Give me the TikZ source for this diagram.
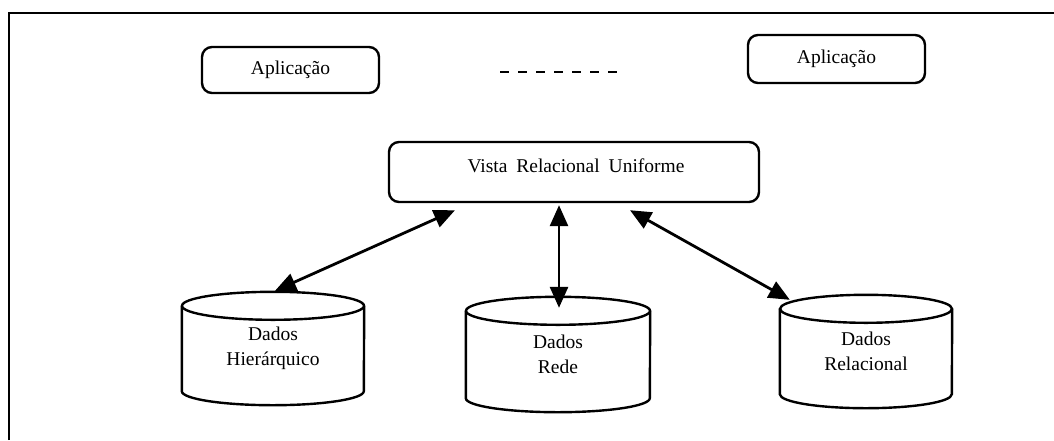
\documentclass[tikz,border=0pt]{standalone}
\usepackage{fontspec}
\setmainfont{Liberation Serif}
\usetikzlibrary{arrows.meta}

% Drum outline around a named rectangular node: #1 node name, #2 x radius, #3 y radius
\newcommand{\dbdrum}[3]{%
  \draw[drumline] ([yshift=-#3]#1.north) ellipse [x radius=#2, y radius=#3];
  \draw[drumline] ([yshift=-#3]#1.north west) -- ([yshift=#3]#1.south west)
    arc [start angle=180, end angle=360, x radius=#2, y radius=#3]
    -- ([yshift=-#3]#1.north east);
}

\begin{document}
\begin{tikzpicture}[x=1pt, y=-1pt,
  appbox/.style={draw, line width=2.4pt, rounded corners=10pt, inner sep=0pt,
                 font=\fontsize{19.5}{23}\selectfont},
  drumbox/.style={inner sep=0pt, align=center, font=\fontsize{19.5}{25}\selectfont},
  drumline/.style={line width=2.4pt},
  biarrow/.style={line width=2.8pt, {Triangle[length=21pt,width=18pt]}-{Triangle[length=21pt,width=18pt]}},
  gapline/.style={line width=1.6pt, dash pattern=on 9pt off 9pt}]
  \useasboundingbox (0,0) rectangle (1054,440);

  % outer frame (left and top edges)
  \draw[line width=2.6pt] (9,440) -- (9,13) -- (1054,13);

  % applications
  \node[appbox, minimum width=177pt, minimum height=46pt] (app1) at (290.5,70) {Aplicação};
  \node[appbox, minimum width=177pt, minimum height=48pt] (app2) at (836.5,59) {Aplicação};
  \coordinate (g1) at (500,72);
  \coordinate (g2) at (621,72);
  \draw[gapline] (g1) -- (g2);

  % uniform relational view
  \node[appbox, minimum width=370pt, minimum height=60pt] (vista) at (574,172) {};
  \node[font=\fontsize{19.5}{23}\selectfont] (vistatxt) at (576,166)
    {Vista\hspace{4pt} Relacional\hspace{4pt} Uniforme};

  % data stores
  \node[drumbox, minimum width=182pt, minimum height=113pt] (hier) at (273,348.5) {Dados\\Hierárquico};
  \node[drumbox, minimum width=184pt, minimum height=115pt] (rede) at (558,354.5) {Dados\\Rede};
  \node[drumbox, minimum width=172pt, minimum height=113pt] (rel) at (866,351.5) {Dados\\Relacional};
  \dbdrum{hier}{91pt}{14pt}
  \dbdrum{rede}{92pt}{14pt}
  \dbdrum{rel}{86pt}{14pt}

  % links between the view and the stores
  \coordinate (v1) at ([xshift=-119pt,yshift=-7pt]vista.south);
  \coordinate (v2) at ([xshift=-15pt,yshift=-2pt]vista.south);
  \coordinate (v3) at ([xshift=56pt,yshift=-7pt]vista.south);
  \coordinate (h1) at ([xshift=2pt,yshift=1pt]hier.north);
  \coordinate (r1) at ([xshift=1pt,yshift=-11pt]rede.north);
  \coordinate (l1) at ([xshift=10pt,yshift=-5pt]rel.north west);
  \draw[biarrow] (v1) -- (h1);
  \draw[biarrow] (v2) -- (r1);
  \draw[biarrow] (v3) -- (l1);
\end{tikzpicture}
\end{document}
